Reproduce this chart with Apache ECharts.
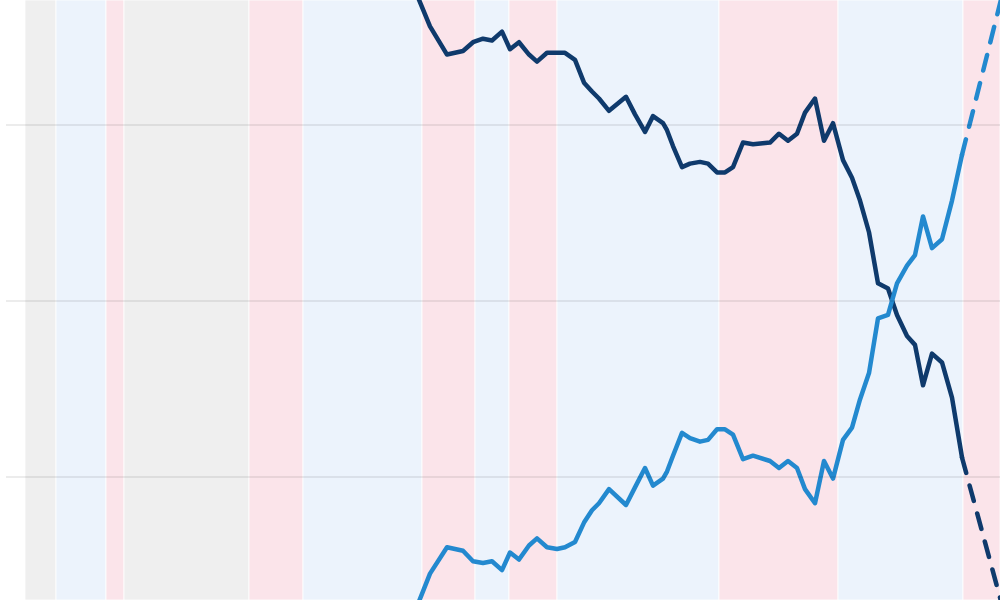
<!DOCTYPE html>
<html>
<head>
<meta charset="utf-8">
<script src="https://cdn.jsdelivr.net/npm/echarts@6/dist/echarts.min.js"></script>
<style>
  html, body { margin: 0; padding: 0; background: #fff; }
  #chart { width: 1000px; height: 600px; }
</style>
</head>
<body>
<div id="chart"></div>
<script>
// period index on the x axis
var periods = [41.4, 43.0, 44.7, 46.3, 47.3, 48.3, 49.2, 50.2, 51.0, 51.9, 52.9, 53.7, 54.7, 55.7, 56.5, 57.5,
  58.4, 59.2, 59.9, 60.9, 62.6, 63.5, 64.5, 65.3, 66.3, 66.7, 67.3, 68.2, 69.0, 70.0, 70.8, 71.7, 72.5, 73.3,
  74.3, 75.3, 77.0, 77.9, 78.8, 79.7, 80.5, 81.5, 82.4, 83.3, 84.3, 85.2, 86.0, 86.9, 87.8, 88.8, 89.7, 90.7,
  91.5, 92.3, 93.2, 94.2, 95.2, 96.2]
var darkShare = [67.8, 65.6, 64.0, 64.2, 64.7, 64.9, 64.8, 65.3, 64.3, 64.7, 64.0, 63.6, 64.1, 64.1, 64.1, 63.7,
  62.4, 61.9, 61.5, 60.8, 61.6, 60.6, 59.6, 60.5, 60.1, 59.7, 58.8, 57.6, 57.8, 57.9, 57.8, 57.3, 57.3, 57.6,
  59.0, 58.9, 59.0, 59.5, 59.1, 59.5, 60.7, 61.5, 59.1, 60.1, 58.0, 57.0, 55.7, 53.9, 51.0, 50.7, 49.2, 48.0,
  47.5, 45.2, 47.0, 46.5, 44.5, 41.1]
var lightShare = [32.2, 34.5, 36.0, 35.8, 35.2, 35.1, 35.2, 34.7, 35.7, 35.3, 36.1, 36.5, 36.0, 35.9, 36.0, 36.3,
  37.4, 38.1, 38.5, 39.3, 38.4, 39.4, 40.5, 39.5, 39.9, 40.3, 41.2, 42.5, 42.2, 42.0, 42.1, 42.7, 42.7, 42.4,
  41.0, 41.2, 40.9, 40.5, 40.9, 40.5, 39.3, 38.5, 40.9, 39.9, 42.1, 42.8, 44.4, 45.9, 49.0, 49.2, 51.0, 52.0,
  52.6, 54.8, 53.0, 53.5, 55.7, 58.3]
// projection (dashed)
var projPeriods = [96.2, 100.4]
var darkProj = [41.1, 32.3]
var lightProj = [58.3, 67.8]

// horizontal reference lines
var gridValues = [40, 50, 60]

// background periods
var bandStart = [2.5, 5.6, 10.6, 12.4, 24.9, 30.3, 42.2, 47.5, 50.9, 55.7, 71.9, 83.8, 96.3]
var bandEnd = [5.6, 10.6, 12.4, 24.9, 30.3, 42.2, 47.5, 50.9, 55.7, 71.9, 83.8, 96.3, 101]
var bandKind = ['o', 'd', 'r', 'o', 'r', 'd', 'r', 'd', 'r', 'd', 'r', 'd', 'r']

var bandColors = { o: '#efefef', d: '#ecf3fc', r: '#fbe4ea' }
var darkColor = '#0f3a6c'
var lightColor = '#2389cf'

function pairs(xs, ys) {
  var out = []
  for (var i = 0; i < xs.length; i++) out.push([xs[i], ys[i]])
  return out
}

var bands = []
for (var i = 0; i < bandStart.length; i++) {
  bands.push([
    { xAxis: bandStart[i], itemStyle: { color: bandColors[bandKind[i]] } },
    { xAxis: bandEnd[i] }
  ])
}

var chart = echarts.init(document.getElementById('chart'))
var option = {
  animation: false,
  grid: { left: 6, right: 0, top: 0, bottom: 0 },
  xAxis: {
    type: 'value',
    min: 0.6,
    max: 100,
    show: false
  },
  yAxis: {
    type: 'value',
    min: 33.0,
    max: 67.1,
    show: false,
    splitLine: { show: false }
  },
  series: [
    {
      name: 'bands',
      type: 'line',
      z: 0,
      data: [],
      silent: true,
      markArea: {
        silent: true,
        itemStyle: { borderColor: 'rgba(255,255,255,0.8)', borderWidth: 1 },
        data: bands
      }
    },
    {
      name: 'grid lines',
      type: 'line',
      z: 1,
      data: [],
      silent: true,
      markLine: {
        silent: true,
        symbol: 'none',
        label: { show: false },
        lineStyle: { color: 'rgba(0,0,0,0.075)', width: 2, type: 'solid' },
        data: gridValues.map(function(v) { return { yAxis: v } })
      }
    },
    {
      name: 'dark',
      type: 'line',
      z: 3,
      data: pairs(periods, darkShare),
      showSymbol: false,
      lineStyle: { color: darkColor, width: 4.5, join: 'round', cap: 'round' }
    },
    {
      name: 'light',
      type: 'line',
      z: 3,
      data: pairs(periods, lightShare),
      showSymbol: false,
      lineStyle: { color: lightColor, width: 4.5, join: 'round', cap: 'round' }
    },
    {
      name: 'dark projection',
      type: 'line',
      z: 3,
      data: pairs(projPeriods, darkProj),
      showSymbol: false,
      lineStyle: { color: darkColor, width: 4.5, type: [16, 13], cap: 'round' }
    },
    {
      name: 'light projection',
      type: 'line',
      z: 3,
      data: pairs(projPeriods, lightProj),
      showSymbol: false,
      lineStyle: { color: lightColor, width: 4.5, type: [16, 13], cap: 'round' }
    }
  ]
}
chart.setOption(option)
window.addEventListener('resize', function() {
  chart.resize()
})
</script>
</body>
</html>
